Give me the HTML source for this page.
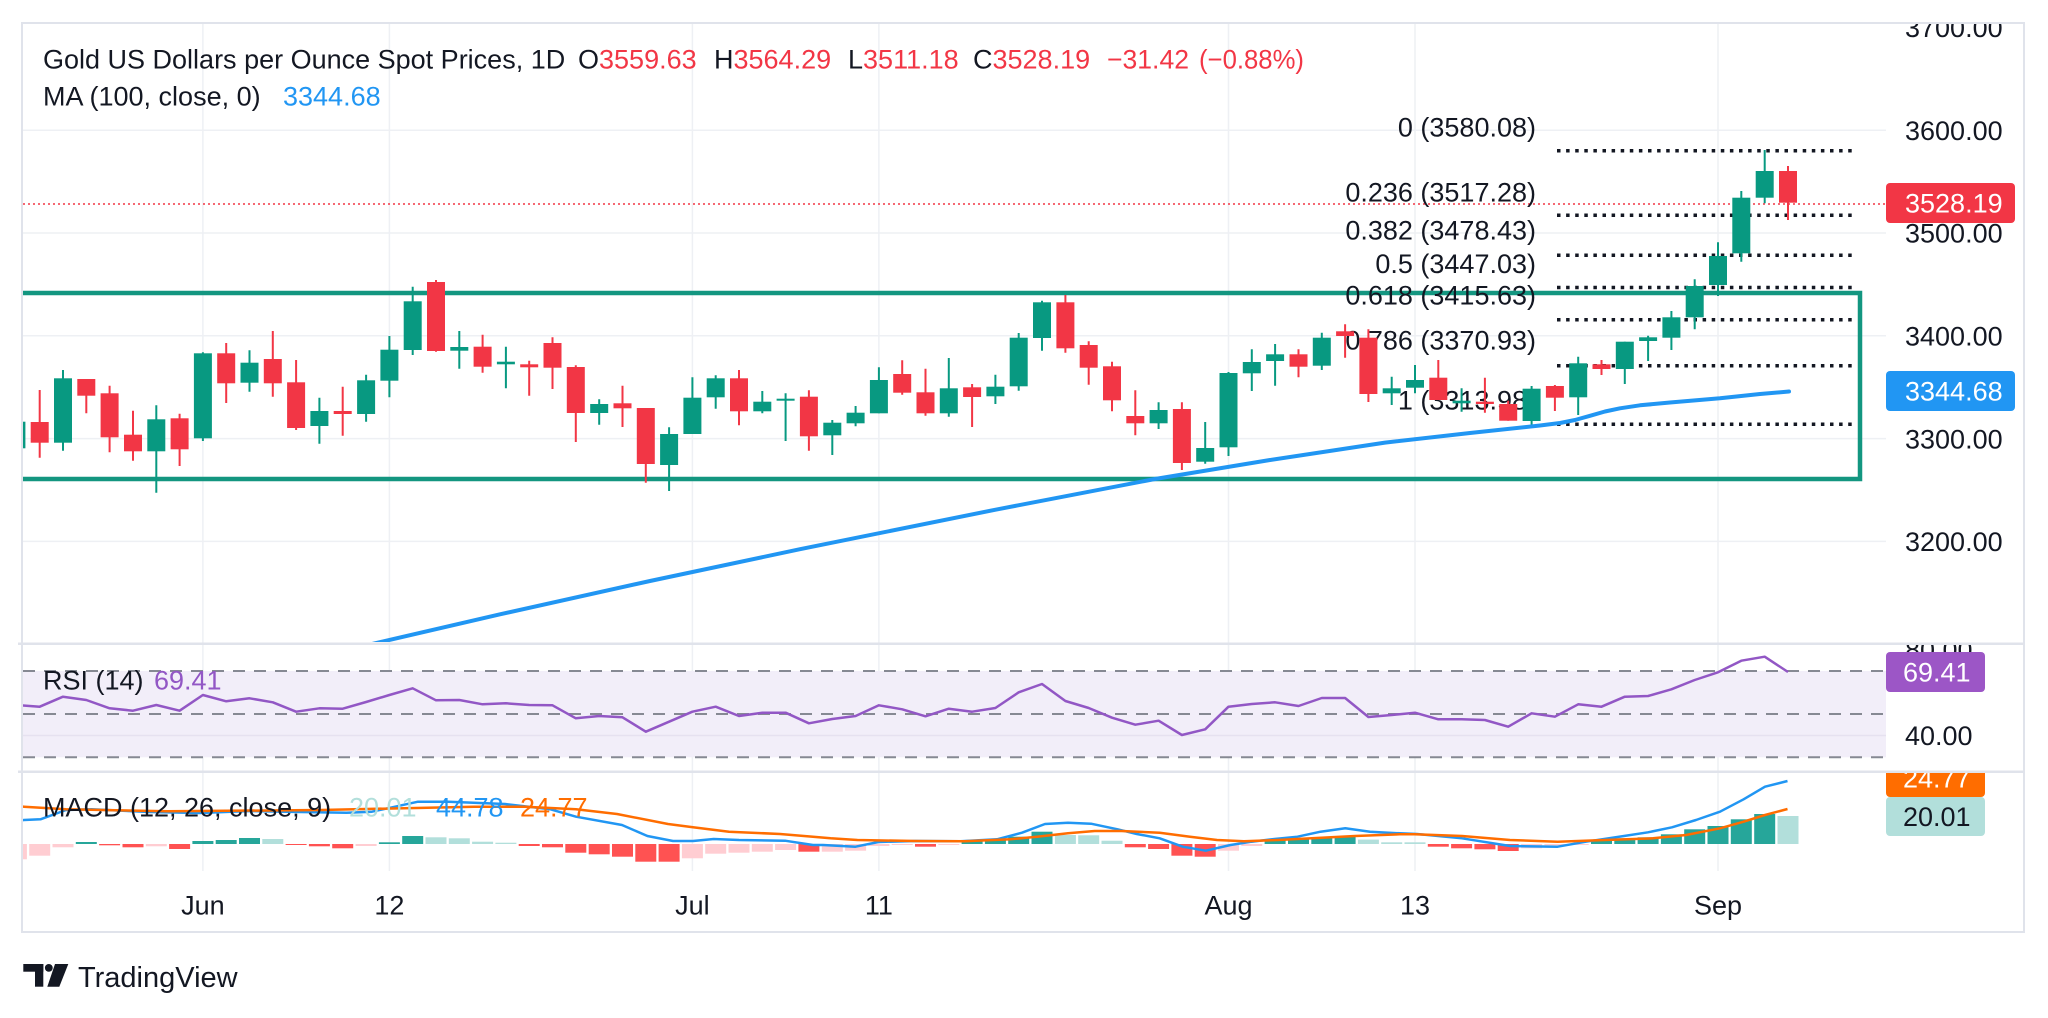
<!DOCTYPE html>
<html><head><meta charset="utf-8"><title>Gold Spot 1D</title>
<style>
html,body{margin:0;padding:0;background:#fff;}
svg{display:block;}
text{font-family:"Liberation Sans",Arial,sans-serif;}
</style></head>
<body>
<svg width="2048" height="1018" viewBox="0 0 2048 1018" xmlns="http://www.w3.org/2000/svg">
<defs>
<clipPath id="cpP"><rect x="23" y="24" width="1863" height="618"/></clipPath>
<clipPath id="cpR"><rect x="23" y="645" width="1863" height="125"/></clipPath>
<clipPath id="cpM"><rect x="23" y="773" width="1863" height="98"/></clipPath>
<clipPath id="cpAxTop"><rect x="1886" y="24" width="137" height="618"/></clipPath>
<clipPath id="cpAxR"><rect x="1886" y="645" width="137" height="125"/></clipPath>
<clipPath id="cpAxM"><rect x="1886" y="773" width="137" height="98"/></clipPath>
</defs>
<rect width="2048" height="1018" fill="#fff"/>

<!-- grid -->
<g stroke="#eef0f4" stroke-width="1.5">
<line x1="23" y1="130.2" x2="1886" y2="130.2"/>
<line x1="23" y1="233" x2="1886" y2="233"/>
<line x1="23" y1="335.8" x2="1886" y2="335.8"/>
<line x1="23" y1="438.6" x2="1886" y2="438.6"/>
<line x1="23" y1="541.4" x2="1886" y2="541.4"/>
<line x1="202.9" y1="24" x2="202.9" y2="871"/>
<line x1="389.4" y1="24" x2="389.4" y2="871"/>
<line x1="692.4" y1="24" x2="692.4" y2="871"/>
<line x1="878.9" y1="24" x2="878.9" y2="871"/>
<line x1="1228.5" y1="24" x2="1228.5" y2="871"/>
<line x1="1415" y1="24" x2="1415" y2="871"/>
<line x1="1718" y1="24" x2="1718" y2="871"/>
</g>

<!-- price pane -->
<g clip-path="url(#cpP)">
<path d="M0 293H1860V479H0" fill="none" stroke="#139680" stroke-width="4.5"/>
<line x1="23" y1="204" x2="1886" y2="204" stroke="#f23645" stroke-width="1.5" stroke-dasharray="2 3"/>
<g stroke="#131722" stroke-width="3.5" stroke-dasharray="3.5 5.6">
<line x1="1557" y1="150.7" x2="1856" y2="150.7"/>
<line x1="1557" y1="215.2" x2="1856" y2="215.2"/>
<line x1="1557" y1="255.2" x2="1856" y2="255.2"/>
<line x1="1557" y1="287.5" x2="1856" y2="287.5"/>
<line x1="1557" y1="319.7" x2="1856" y2="319.7"/>
<line x1="1557" y1="365.7" x2="1856" y2="365.7"/>
<line x1="1557" y1="424.2" x2="1856" y2="424.2"/>
</g>
<g font-size="27" fill="#131722" text-anchor="end">
<text x="1536" y="136.4">0 (3580.08)</text>
<text x="1536" y="201.4">0.236 (3517.28)</text>
<text x="1536" y="239.7">0.382 (3478.43)</text>
<text x="1536" y="273">0.5 (3447.03)</text>
<text x="1536" y="304.7">0.618 (3415.63)</text>
<text x="1536" y="349.7">0.786 (3370.93)</text>
<text x="1536" y="409.7">1 (3313.98)</text>
</g>

<g fill="#089981">
<path stroke="#089981" stroke-width="2" fill="none" d="M16.4 415V452M63 370V450.7M156.3 405.3V492.7M202.9 352.3V441M249.5 350.3V391.7M319.4 397.7V443.7M366.1 374.7V421.7M389.4 336V397.3M412.7 286.7V355M459.3 331V368.7M505.9 346.7V388.3M599.2 399.3V424.7M669.1 427.3V491M692.4 377.3V434M715.7 375.3V408.7M762.3 391V413.3M785.6 393.3V441M832.3 420V455M855.6 406V426.3M878.9 367.3V413.3M948.8 358V416.7M995.4 374.7V404M1018.7 333V390.7M1042 300.7V350.7M1158.6 402.3V429M1205.2 422V463.7M1228.5 372V456M1251.8 349.3V391M1275.1 344V385.7M1321.8 332.7V370M1391.7 376.7V405M1415 365V393.3M1461.6 388.3V411.7M1531.6 386V425M1578.2 356.7V415M1624.8 341.7V384M1648.1 335.7V361M1671.4 311V350M1694.7 279.3V329.3M1718 242.3V296M1741.3 191V261.7M1764.7 150V203.3"/>
<rect x="7.4" y="421.7" width="18" height="26.6"/>
<rect x="54" y="378.3" width="18" height="64.4"/>
<rect x="147.3" y="419.3" width="18" height="32"/>
<rect x="193.9" y="353.3" width="18" height="85"/>
<rect x="240.5" y="362.7" width="18" height="20"/>
<rect x="310.4" y="411" width="18" height="15"/>
<rect x="357.1" y="380.3" width="18" height="33.7"/>
<rect x="380.4" y="349.7" width="18" height="31"/>
<rect x="403.7" y="301.3" width="18" height="48.7"/>
<rect x="450.3" y="347" width="18" height="3.7"/>
<rect x="496.9" y="361.7" width="18" height="2.6"/>
<rect x="590.2" y="404" width="18" height="9"/>
<rect x="660.1" y="434" width="18" height="31"/>
<rect x="683.4" y="397.7" width="18" height="36.3"/>
<rect x="706.7" y="378.3" width="18" height="19"/>
<rect x="753.3" y="401.7" width="18" height="9.6"/>
<rect x="776.6" y="398.7" width="18" height="2"/>
<rect x="823.3" y="422.7" width="18" height="12.6"/>
<rect x="846.6" y="412.7" width="18" height="10.6"/>
<rect x="869.9" y="380" width="18" height="33.3"/>
<rect x="939.8" y="388.3" width="18" height="25"/>
<rect x="986.4" y="386.7" width="18" height="9.6"/>
<rect x="1009.7" y="337.7" width="18" height="48.6"/>
<rect x="1033" y="302.3" width="18" height="35.7"/>
<rect x="1149.6" y="410" width="18" height="13.3"/>
<rect x="1196.2" y="448" width="18" height="13.7"/>
<rect x="1219.5" y="373" width="18" height="74.3"/>
<rect x="1242.8" y="362" width="18" height="11.3"/>
<rect x="1266.1" y="354.3" width="18" height="6.7"/>
<rect x="1312.8" y="337.7" width="18" height="28"/>
<rect x="1382.7" y="388.3" width="18" height="5"/>
<rect x="1406" y="380" width="18" height="7.7"/>
<rect x="1452.6" y="400.7" width="18" height="2.6"/>
<rect x="1522.6" y="388.7" width="18" height="32.3"/>
<rect x="1569.2" y="363.3" width="18" height="34"/>
<rect x="1615.8" y="341.7" width="18" height="27.3"/>
<rect x="1639.1" y="337.3" width="18" height="3.7"/>
<rect x="1662.4" y="317.3" width="18" height="20.4"/>
<rect x="1685.7" y="286" width="18" height="31.3"/>
<rect x="1709" y="256" width="18" height="29"/>
<rect x="1732.3" y="197.7" width="18" height="55.6"/>
<rect x="1755.7" y="171" width="18" height="26.7"/>
</g>
<g fill="#f23645">
<path stroke="#f23645" stroke-width="2" fill="none" d="M39.7 390V457.7M86.3 379V413.3M109.6 385.7V452.3M133 410.7V460.7M179.6 413.7V466M226.2 343V403M272.8 331V396.7M296.1 360V430M342.7 386.7V435.7M436 280V351.7M482.6 334.7V372.7M529.2 360.7V395.7M552.5 337.3V389M575.8 365.3V442M622.5 385.7V427M645.8 408V482.7M739 370V425.3M808.9 390.3V450.7M902.2 360.3V394.7M925.5 368.7V415.7M972.1 384V427M1065.4 295V352.7M1088.7 341.3V384.7M1112 361.7V411.3M1135.3 390.3V435.3M1181.9 402.3V470M1298.5 349.3V377.3M1345.1 324.3V357.7M1368.4 329.3V402M1438.3 360V400M1484.9 377.7V412.7M1508.2 400.7V420.7M1554.9 385V411M1601.5 360V375M1788 166V220"/>
<rect x="30.7" y="422" width="18" height="20.7"/>
<rect x="77.3" y="379" width="18" height="16.7"/>
<rect x="100.6" y="393.3" width="18" height="44"/>
<rect x="124" y="434.7" width="18" height="16.6"/>
<rect x="170.6" y="418.3" width="18" height="31"/>
<rect x="217.2" y="353.3" width="18" height="30"/>
<rect x="263.8" y="359" width="18" height="24.3"/>
<rect x="287.1" y="382.3" width="18" height="45.7"/>
<rect x="333.7" y="411" width="18" height="3"/>
<rect x="427" y="282" width="18" height="69"/>
<rect x="473.6" y="346.7" width="18" height="20"/>
<rect x="520.2" y="364.3" width="18" height="3"/>
<rect x="543.5" y="343" width="18" height="24.7"/>
<rect x="566.8" y="367" width="18" height="46"/>
<rect x="613.5" y="403.3" width="18" height="5"/>
<rect x="636.8" y="408" width="18" height="56"/>
<rect x="730" y="378.3" width="18" height="33"/>
<rect x="799.9" y="396.7" width="18" height="39.6"/>
<rect x="893.2" y="374" width="18" height="18.7"/>
<rect x="916.5" y="392.3" width="18" height="21"/>
<rect x="963.1" y="387.3" width="18" height="9.7"/>
<rect x="1056.4" y="302.3" width="18" height="46"/>
<rect x="1079.7" y="345" width="18" height="22.7"/>
<rect x="1103" y="366.3" width="18" height="34"/>
<rect x="1126.3" y="416" width="18" height="7.3"/>
<rect x="1172.9" y="409" width="18" height="54"/>
<rect x="1289.5" y="354.3" width="18" height="12.4"/>
<rect x="1336.1" y="331.3" width="18" height="4.7"/>
<rect x="1359.4" y="337.7" width="18" height="56.3"/>
<rect x="1429.3" y="377.7" width="18" height="22.3"/>
<rect x="1475.9" y="401.7" width="18" height="2.3"/>
<rect x="1499.2" y="404" width="18" height="16.7"/>
<rect x="1545.9" y="386" width="18" height="11.7"/>
<rect x="1592.5" y="364.3" width="18" height="4.7"/>
<rect x="1779" y="171" width="18" height="31.7"/>
</g>
<polyline fill="none" stroke="#2196f3" stroke-width="4" stroke-linejoin="round" stroke-linecap="round"
points="355,649 372,644 500,614.3 650,581 800,549.2 995,509.8 1155,479 1270,460 1385,442.6 1470,433 1540,425.5 1560,423 1575,420 1590,415.8 1605,411.5 1620,408.3 1640,405.3 1670,402.5 1720,398.3 1760,394 1789,391.5"/>
</g>

<g font-size="27" fill="#131722">
<text x="43" y="68.5">Gold US Dollars per Ounce Spot Prices, 1D</text>
<text x="578" y="68.5">O<tspan fill="#f23645">3559.63</tspan></text>
<text x="714" y="68.5">H<tspan fill="#f23645">3564.29</tspan></text>
<text x="848" y="68.5">L<tspan fill="#f23645">3511.18</tspan></text>
<text x="973" y="68.5">C<tspan fill="#f23645">3528.19</tspan></text>
<text x="1107" y="68.5" fill="#f23645" textLength="82" lengthAdjust="spacingAndGlyphs">−31.42</text>
<text x="1199" y="68.5" fill="#f23645" textLength="105" lengthAdjust="spacingAndGlyphs">(−0.88%)</text>
<text x="43" y="105.5">MA (100, close, 0)</text>
<text x="283" y="105.5" fill="#2196f3">3344.68</text>
</g>

<rect x="18" y="642.5" width="2006" height="2.5" fill="#e0e3eb"/>
<rect x="18" y="770.5" width="2006" height="2.5" fill="#e0e3eb"/>

<g clip-path="url(#cpR)">
<rect x="23" y="671" width="1863" height="86.3" fill="#f2eef9"/>
<line x1="23" y1="735.5" x2="1886" y2="735.5" stroke="#e6e1f0" stroke-width="1.5"/>
<g stroke="#868993" stroke-width="2" stroke-dasharray="12 9">
<line x1="23" y1="671" x2="1886" y2="671"/>
<line x1="23" y1="714" x2="1886" y2="714"/>
<line x1="23" y1="757.3" x2="1886" y2="757.3"/>
</g>
<polyline fill="none" stroke="#9257c5" stroke-width="2.5" stroke-linejoin="round"
points="16.4,705 39.7,706.7 63,696.7 86.3,700 109.6,708.3 133,710.7 156.3,705 179.6,710.7 202.9,695 226.2,701.3 249.5,698.3 272.8,702.3 296.1,711.7 319.4,708.3 342.7,708.7 366.1,702 389.4,695 412.7,688.3 436,700.3 459.3,700 482.6,704.3 505.9,703.3 529.2,705 552.5,705.3 575.8,718.3 599.2,716 622.5,717.3 645.8,731.7 669.1,721.7 692.4,711.7 715.7,706.7 739,716 762.3,712.7 785.6,712.7 808.9,723.3 832.3,719 855.6,716 878.9,705.3 902.2,709.3 925.5,716.3 948.8,708.7 972.1,711.7 995.4,708 1018.7,692.3 1042,684 1065.4,701 1088.7,708 1112,717.7 1135.3,724.7 1158.6,720.7 1181.9,735 1205.2,729.3 1228.5,706.7 1251.8,704 1275.1,702.3 1298.5,706 1321.8,698 1345.1,698 1368.4,717 1391.7,715 1415,712.7 1438.3,719.3 1461.6,719.3 1484.9,720 1508.2,726.7 1531.6,713.3 1554.9,716.7 1578.2,704.3 1601.5,706.7 1624.8,696.7 1648.1,696 1671.4,689.3 1694.7,680 1718,672.3 1741.3,660.7 1764.7,656.7 1788,672"/>
<text x="43" y="689.7" font-size="27" fill="#131722">RSI (14)</text>
<text x="154" y="689.7" font-size="27" fill="#9257c5">69.41</text>
</g>

<g clip-path="url(#cpM)">
<g fill="#26a69a">
<rect x="75.8" y="842" width="21" height="2"/>
<rect x="192.4" y="841" width="21" height="3"/>
<rect x="215.7" y="840" width="21" height="4"/>
<rect x="239" y="838" width="21" height="6"/>
<rect x="378.9" y="842.3" width="21" height="1.7"/>
<rect x="402.2" y="836" width="21" height="8"/>
<rect x="961.6" y="840.7" width="21" height="3.3"/>
<rect x="984.9" y="840" width="21" height="4"/>
<rect x="1008.2" y="836.7" width="21" height="7.3"/>
<rect x="1031.5" y="831.7" width="21" height="12.3"/>
<rect x="1264.6" y="839.3" width="21" height="4.7"/>
<rect x="1288" y="839" width="21" height="5"/>
<rect x="1311.3" y="838" width="21" height="6"/>
<rect x="1334.6" y="836" width="21" height="8"/>
<rect x="1591" y="840" width="21" height="4"/>
<rect x="1614.3" y="838.3" width="21" height="5.7"/>
<rect x="1637.6" y="837.3" width="21" height="6.7"/>
<rect x="1660.9" y="834.3" width="21" height="9.7"/>
<rect x="1684.2" y="829.3" width="21" height="14.7"/>
<rect x="1707.5" y="826" width="21" height="18"/>
<rect x="1730.8" y="819.3" width="21" height="24.7"/>
<rect x="1754.2" y="814" width="21" height="30"/>
</g>
<g fill="#b2dfdb">
<rect x="262.3" y="839" width="21" height="5"/>
<rect x="425.5" y="837.3" width="21" height="6.7"/>
<rect x="448.8" y="838.3" width="21" height="5.7"/>
<rect x="472.1" y="841.7" width="21" height="2.3"/>
<rect x="495.4" y="842.7" width="21" height="1.3"/>
<rect x="1054.9" y="835" width="21" height="9"/>
<rect x="1078.2" y="835.3" width="21" height="8.7"/>
<rect x="1101.5" y="840.7" width="21" height="3.3"/>
<rect x="1357.9" y="839.6" width="21" height="4.4"/>
<rect x="1381.2" y="842.3" width="21" height="1.7"/>
<rect x="1404.5" y="842.3" width="21" height="1.7"/>
<rect x="1777.5" y="816" width="21" height="28"/>
</g>
<g fill="#ff5252">
<rect x="99.1" y="844" width="21" height="1.3"/>
<rect x="122.5" y="844" width="21" height="3.3"/>
<rect x="169.1" y="844" width="21" height="5"/>
<rect x="285.6" y="844" width="21" height="1"/>
<rect x="308.9" y="844" width="21" height="2.3"/>
<rect x="332.2" y="844" width="21" height="4.3"/>
<rect x="518.7" y="844" width="21" height="2"/>
<rect x="542" y="844" width="21" height="3.3"/>
<rect x="565.3" y="844" width="21" height="8.7"/>
<rect x="588.7" y="844" width="21" height="10.3"/>
<rect x="612" y="844" width="21" height="12.7"/>
<rect x="635.3" y="844" width="21" height="17.7"/>
<rect x="658.6" y="844" width="21" height="17.7"/>
<rect x="798.4" y="844" width="21" height="7.7"/>
<rect x="915" y="844" width="21" height="2.7"/>
<rect x="1124.8" y="844" width="21" height="3.3"/>
<rect x="1148.1" y="844" width="21" height="5"/>
<rect x="1171.4" y="844" width="21" height="11.7"/>
<rect x="1194.7" y="844" width="21" height="12.7"/>
<rect x="1427.8" y="844" width="21" height="2.7"/>
<rect x="1451.1" y="844" width="21" height="4.3"/>
<rect x="1474.4" y="844" width="21" height="5.3"/>
<rect x="1497.7" y="844" width="21" height="7"/>
</g>
<g fill="#ffcdd2">
<rect x="5.9" y="844" width="21" height="15.3"/>
<rect x="29.2" y="844" width="21" height="11.7"/>
<rect x="52.5" y="844" width="21" height="3.3"/>
<rect x="145.8" y="844" width="21" height="2.3"/>
<rect x="355.6" y="844" width="21" height="2"/>
<rect x="681.9" y="844" width="21" height="14.3"/>
<rect x="705.2" y="844" width="21" height="9.7"/>
<rect x="728.5" y="844" width="21" height="8.7"/>
<rect x="751.8" y="844" width="21" height="7.7"/>
<rect x="775.1" y="844" width="21" height="6"/>
<rect x="821.8" y="844" width="21" height="7.7"/>
<rect x="845.1" y="844" width="21" height="6.7"/>
<rect x="868.4" y="844" width="21" height="2"/>
<rect x="891.7" y="844" width="21" height="1"/>
<rect x="938.3" y="844" width="21" height="1"/>
<rect x="1218" y="844" width="21" height="6.7"/>
<rect x="1241.3" y="844" width="21" height="2"/>
<rect x="1521.1" y="844" width="21" height="4.3"/>
<rect x="1544.4" y="844" width="21" height="1.3"/>
<rect x="1567.7" y="844" width="21" height="1"/>
</g>
<polyline fill="none" stroke="#2196f3" stroke-width="2.5" stroke-linejoin="round"
points="10,821 24,820 40.5,819.3 66,810 91.5,809.3 150,812 200,813 250,811 300,812 346.5,812.7 372,811.7 418,801.7 448.5,801.7 505,804 550.5,809.3 576,816.7 622,825 647.4,836 673,841 693,841 713.7,839 739,840 785,840.7 813,845 823,845 855.5,846.7 878.5,842 915,841 960.7,841.3 997,839.3 1022,832.7 1045,824 1068,822.7 1091,823.7 1117.6,829.3 1136.8,834 1159.7,838.3 1182.7,846.7 1205.7,850.7 1230.5,845 1251.6,841.7 1274.5,839 1297.5,836.7 1320.5,831.7 1345.3,828.3 1370,831.7 1400,833.3 1417,834 1462,838.3 1510,846 1557.6,846.7 1586,841.7 1624,836 1648,832.3 1672,827.3 1696,820 1720,811.7 1743.6,799.3 1765,786.7 1787.5,781"/>
<polyline fill="none" stroke="#ff6d00" stroke-width="2.5" stroke-linejoin="round"
points="10,806.3 24,806.7 66,809.3 168,811.3 321,810 474,806.7 525,806.7 576,809.3 617,814 668,824 693,827.3 729,831.7 780,834 813,836.7 830.6,838.3 857.4,840 915,841 964.6,841.3 1010.5,839.3 1037,836.7 1068,833.3 1094.7,831 1121.5,831 1159.7,832.7 1190,836.7 1217,840 1244,841.3 1278,840 1316.6,838 1355,836 1400,834.3 1414.5,834.3 1462,836 1510,840 1557.6,841.7 1605,840 1653,838.3 1686,835 1720,828.3 1743.6,821.7 1765,815 1787.5,809"/>
<g font-size="27">
<text x="43" y="816.4" fill="#131722">MACD (12, 26, close, 9)</text>
<text x="349" y="816.4" fill="#b2dfdb">20.01</text>
<text x="436" y="816.4" fill="#2196f3">44.78</text>
<text x="520" y="816.4" fill="#ff6d00">24.77</text>
</g>
</g>

<g font-size="27" fill="#131722">
<g clip-path="url(#cpAxTop)">
<text x="1905" y="37.1">3700.00</text>
<text x="1905" y="139.9">3600.00</text>
<text x="1905" y="242.7">3500.00</text>
<text x="1905" y="345.5">3400.00</text>
<text x="1905" y="448.3">3300.00</text>
<text x="1905" y="551.1">3200.00</text>
</g>
<g clip-path="url(#cpAxR)">
<text x="1905" y="659.2">80.00</text>
<text x="1905" y="745.2">40.00</text>
</g>
</g>
<rect x="1886" y="183" width="129" height="40" rx="4" fill="#f23645"/>
<text x="1905" y="212.7" font-size="27" fill="#fff">3528.19</text>
<rect x="1886" y="371" width="129" height="40" rx="4" fill="#2196f3"/>
<text x="1905" y="400.7" font-size="27" fill="#fff">3344.68</text>
<g clip-path="url(#cpAxR)">
<rect x="1886" y="652" width="99" height="40" rx="4" fill="#9c56c6"/>
<text x="1903" y="681.7" font-size="27" fill="#fff">69.41</text>
</g>
<g clip-path="url(#cpAxM)">
<rect x="1886" y="759" width="99" height="38" rx="4" fill="#ff6d00"/>
<text x="1903" y="787.7" font-size="27" fill="#fff">24.77</text>
<rect x="1886" y="797" width="99" height="39" rx="4" fill="#b2dfdb"/>
<text x="1903" y="826" font-size="27" fill="#131722">20.01</text>
</g>

<g font-size="27" fill="#131722" text-anchor="middle">
<text x="202.9" y="914.7">Jun</text>
<text x="389.4" y="914.7">12</text>
<text x="692.4" y="914.7">Jul</text>
<text x="878.9" y="914.7">11</text>
<text x="1228.5" y="914.7">Aug</text>
<text x="1415" y="914.7">13</text>
<text x="1718" y="914.7">Sep</text>
</g>

<rect x="22" y="23" width="2002" height="909" fill="none" stroke="#e0e3eb" stroke-width="2"/>

<g fill="#131722">
<rect x="23.3" y="964" width="20" height="7.7"/>
<rect x="35" y="964" width="8.3" height="22.7"/>
<circle cx="48.8" cy="967.9" r="3.9"/>
<polygon points="55,964 68.3,964 59.3,986.7 47.3,986.7"/>
<text x="78" y="987" font-size="29">TradingView</text>
</g>
</svg>
</body></html>
